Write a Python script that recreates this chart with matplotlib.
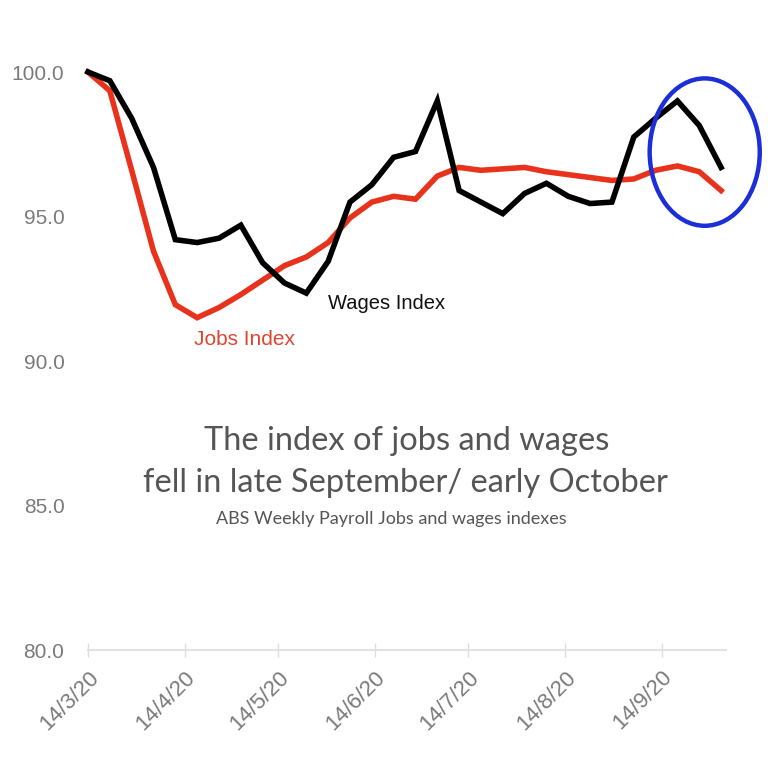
import numpy as np
import pandas as pd
import matplotlib
matplotlib.use("Agg")
import matplotlib.pyplot as plt
import matplotlib.dates as mdates
from matplotlib.patches import Ellipse

# weekly observations (week ending Saturday)
dates = ["2020-03-14", "2020-03-21", "2020-03-28", "2020-04-04", "2020-04-11",
         "2020-04-18", "2020-04-25", "2020-05-02", "2020-05-09", "2020-05-16",
         "2020-05-23", "2020-05-30", "2020-06-06", "2020-06-13", "2020-06-20",
         "2020-06-27", "2020-07-04", "2020-07-11", "2020-07-18", "2020-07-25",
         "2020-08-01", "2020-08-08", "2020-08-15", "2020-08-22", "2020-08-29",
         "2020-09-05", "2020-09-12", "2020-09-19", "2020-09-26", "2020-10-03"]

wages_index = [100.0, 99.7, 98.4, 96.7, 94.2, 94.1, 94.25, 94.7, 93.4, 92.7,
               92.35, 93.45, 95.5, 96.1, 97.05, 97.25, 99.0, 95.9, 95.5, 95.1,
               95.8, 96.15, 95.7, 95.45, 95.5, 97.75, 98.4, 99.0, 98.15, 96.7]

jobs_index = [100.0, 99.35, 96.6, 93.8, 91.95, 91.5, 91.85, 92.3, 92.8, 93.3,
              93.6, 94.1, 94.95, 95.5, 95.7, 95.6, 96.4, 96.7, 96.6, 96.65,
              96.7, 96.55, 96.45, 96.35, 96.25, 96.3, 96.6, 96.75, 96.55, 95.9]

tick_dates = ["2020-03-14", "2020-04-14", "2020-05-14", "2020-06-14",
              "2020-07-14", "2020-08-14", "2020-09-14"]
tick_labels = ["14/3/20", "14/4/20", "14/5/20", "14/6/20", "14/7/20", "14/8/20", "14/9/20"]
y_ticks = [80, 85, 90, 95, 100]

x = pd.to_datetime(dates)

fig = plt.figure(figsize=(7.68, 7.68), dpi=100)
ax = fig.add_axes([0.1146, 0.1536, 0.8304, 0.7526])

ax.plot(x, jobs_index, color="#e8321c", lw=4, solid_joinstyle="miter", clip_on=False, zorder=3)
ax.plot(x, wages_index, color="#000000", lw=4, solid_joinstyle="miter", clip_on=False, zorder=4)

ax.set_ylim(80, 100)
ax.set_xlim(pd.Timestamp("2020-03-14"), pd.Timestamp("2020-03-14") + pd.Timedelta(days=204.5))

ax.set_yticks(y_ticks)
ax.set_yticklabels(["%.1f" % v for v in y_ticks], fontsize=15,
                   color="#7a7a7a", family="Liberation Sans")
ax.tick_params(axis="y", length=0, pad=17)

ax.set_xticks(pd.to_datetime(tick_dates))
ax.set_xticklabels(tick_labels, rotation=45, ha="right", rotation_mode="anchor",
                   fontsize=16, color="#7a7a7a", family="Liberation Sans")
ax.tick_params(axis="x", direction="inout", length=10, width=1, color="#dddddd", pad=7)

for s in ["top", "right", "left"]:
    ax.spines[s].set_visible(False)
ax.spines["bottom"].set_color("#e2e2e2")
ax.spines["bottom"].set_linewidth(1.5)

# line labels
ax.text(pd.Timestamp("2020-05-30"), 91.8, "Wages Index", fontsize=14.5, color="#111111",
        family="Liberation Sans", ha="left", va="baseline")
ax.text(pd.Timestamp("2020-04-17"), 90.55, "Jobs Index", fontsize=15, color="#e04530",
        family="Liberation Sans", ha="left", va="baseline")

# titles
fig.text(0.530, 1 - 450 / 768, "The index of jobs and wages", fontsize=23.5, color="#555555",
         family="Lato", ha="center", va="baseline")
fig.text(0.528, 1 - 492 / 768, "fell in late September/ early October", fontsize=23.5,
         color="#555555", family="Lato", ha="center", va="baseline")
fig.text(0.510, 1 - 524 / 768, "ABS Weekly Payroll Jobs and wages indexes", fontsize=13,
         color="#555555", family="Lato", ha="center", va="baseline")

# highlight circle
ell_center = (mdates.date2num(pd.Timestamp("2020-09-27 18:00")), 97.23)
ax.add_patch(Ellipse(ell_center, width=35.3, height=5.1, fill=False,
                     edgecolor="#1c2ed8", lw=3.2, clip_on=False, zorder=5))

fig.savefig("out.png", dpi=100, facecolor="white")
